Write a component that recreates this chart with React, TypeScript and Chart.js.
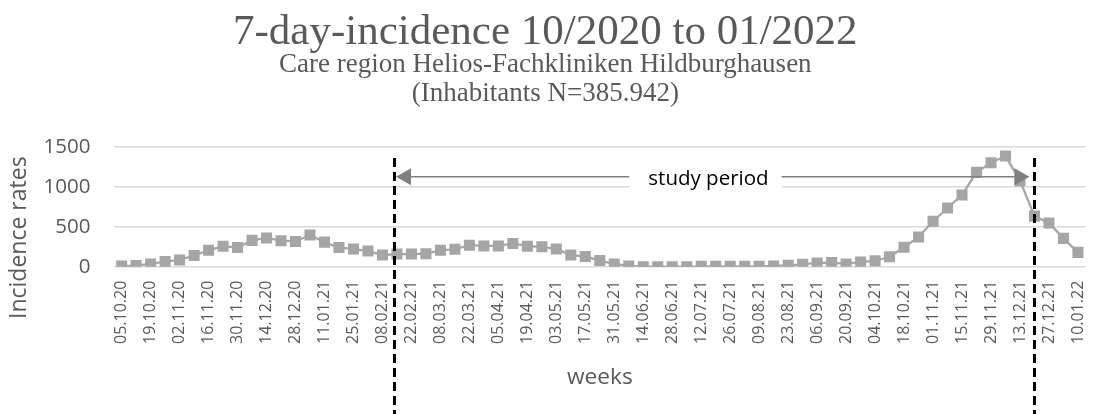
import React, { useEffect, useRef } from "react";
import { Chart, registerables } from "chart.js";

Chart.register(...registerables);

// ---- data ----
const weeks: string[] = [
  "05.10.20", "12.10.20", "19.10.20", "26.10.20", "02.11.20", "09.11.20", "16.11.20", "23.11.20",
  "30.11.20", "07.12.20", "14.12.20", "21.12.20", "28.12.20", "04.01.21", "11.01.21", "18.01.21",
  "25.01.21", "01.02.21", "08.02.21", "15.02.21", "22.02.21", "01.03.21", "08.03.21", "15.03.21",
  "22.03.21", "29.03.21", "05.04.21", "12.04.21", "19.04.21", "26.04.21", "03.05.21", "10.05.21",
  "17.05.21", "24.05.21", "31.05.21", "07.06.21", "14.06.21", "21.06.21", "28.06.21", "05.07.21",
  "12.07.21", "19.07.21", "26.07.21", "02.08.21", "09.08.21", "16.08.21", "23.08.21", "30.08.21",
  "06.09.21", "13.09.21", "20.09.21", "27.09.21", "04.10.21", "11.10.21", "18.10.21", "25.10.21",
  "01.11.21", "08.11.21", "15.11.21", "22.11.21", "29.11.21", "06.12.21", "13.12.21", "20.12.21",
  "27.12.21", "03.01.22", "10.01.22",
];

const incidence: number[] = [
  10, 15, 35, 64, 85, 140, 205, 256, 239, 329, 359, 325, 316, 397, 307, 239,
  222, 196, 145, 158, 158, 162, 205, 218, 269, 260, 260, 290, 256, 248, 222, 145,
  128, 77, 34, 9, 0, 0, 0, 0, 4, 4, 4, 4, 4, 9, 17, 30,
  47, 51, 34, 60, 73, 124, 243, 371, 568, 734, 897, 1179, 1298, 1383, 1076, 632,
  547, 354, 179,
];

const yMin = 0;
const yMax = 1500;
const yStep = 500;

const chartTitle = "7-day-incidence 10/2020 to 01/2022";
const chartSubtitle = [
  "Care region Helios-Fachkliniken Hildburghausen",
  "(Inhabitants N=385.942)",
];
const yAxisTitle = "Incidence rates";
const xAxisTitle = "weeks";
const studyPeriodLabel = "study period";

// study period markers (category positions)
const studyStart = 18.83;
const studyEnd = 63;
const studyLabelAt = 40.5;
const markerTopValue = 1360;
const arrowValue = 1125;

// ---- styles ----
const SANS = "'Open Sans', 'DejaVu Sans', sans-serif";
const SERIF = "'Liberation Serif', 'Times New Roman', serif";
const TEXT_GREY = "#595959";
const SERIES_GREY = "#A5A5A5";
const ARROW_GREY = "#7F7F7F";

const studyPeriodPlugin = {
  id: "studyPeriod",
  beforeDatasetsDraw(chart: any) {
    const { ctx, scales } = chart;
    const x = scales.x;
    const y = scales.y;
    ctx.save();
    ctx.font = `20.5px ${SANS}`;
    const cx = x.getPixelForValue(studyLabelAt);
    const w = ctx.measureText(studyPeriodLabel).width;
    const ay = y.getPixelForValue(arrowValue);
    ctx.fillStyle = "#ffffff";
    ctx.fillRect(cx - w / 2 - 19, ay - 12, w + 32, 27);
    ctx.restore();
  },
  afterDatasetsDraw(chart: any) {
    const { ctx, scales, chartArea } = chart;
    const x = scales.x;
    const y = scales.y;
    ctx.save();

    // label
    ctx.font = `20.5px ${SANS}`;
    const cx = x.getPixelForValue(studyLabelAt);
    const w = ctx.measureText(studyPeriodLabel).width;
    const ay = y.getPixelForValue(arrowValue);
    ctx.fillStyle = "#000000";
    ctx.textAlign = "center";
    ctx.textBaseline = "middle";
    ctx.fillText(studyPeriodLabel, cx, ay + 2);

    const xs = x.getPixelForValue(studyStart);
    const xe = x.getPixelForValue(studyEnd);
    const boxL = cx - w / 2 - 19;
    const boxR = cx + w / 2 + 13;

    // arrows
    ctx.strokeStyle = ARROW_GREY;
    ctx.fillStyle = ARROW_GREY;
    ctx.lineWidth = 1.5;
    const headL = 15;
    const headH = 8.5;
    const tipL = xs + 1.5;
    const tipR = xe - 5;
    ctx.beginPath();
    ctx.moveTo(boxL, ay);
    ctx.lineTo(tipL + headL, ay);
    ctx.moveTo(boxR, ay);
    ctx.lineTo(tipR - headL, ay);
    ctx.stroke();
    ctx.beginPath();
    ctx.moveTo(tipL, ay);
    ctx.lineTo(tipL + headL, ay - headH);
    ctx.lineTo(tipL + headL, ay + headH);
    ctx.closePath();
    ctx.fill();
    ctx.beginPath();
    ctx.moveTo(tipR, ay);
    ctx.lineTo(tipR - headL, ay - headH);
    ctx.lineTo(tipR - headL, ay + headH);
    ctx.closePath();
    ctx.fill();

    // dashed markers
    const top = y.getPixelForValue(markerTopValue);
    ctx.strokeStyle = "#000000";
    ctx.lineWidth = 3;
    ctx.setLineDash([9, 5]);
    for (const px of [xs, xe]) {
      ctx.beginPath();
      ctx.moveTo(px, top);
      ctx.lineTo(px, chart.height);
      ctx.stroke();
    }
    ctx.setLineDash([]);

    // y axis title
    ctx.font = `23px ${SANS}`;
    ctx.fillStyle = TEXT_GREY;
    ctx.textAlign = "center";
    ctx.textBaseline = "middle";
    ctx.translate(19, chartArea.bottom - 29);
    ctx.rotate(-Math.PI / 2);
    ctx.fillText(yAxisTitle, 0, 0);

    ctx.restore();
  },
};

export default function App() {
  const ref = useRef<HTMLCanvasElement>(null);

  useEffect(() => {
    if (!ref.current) return;
    const chart = new Chart(ref.current, {
      type: "line",
      data: {
        labels: weeks,
        datasets: [
          {
            data: incidence,
            borderColor: SERIES_GREY,
            backgroundColor: SERIES_GREY,
            borderWidth: 2.25,
            pointStyle: "rect",
            pointRadius: 7.8,
            pointBorderWidth: 0,
            pointBackgroundColor: SERIES_GREY,
            pointBorderColor: SERIES_GREY,
            tension: 0,
            fill: false,
          },
        ],
      },
      options: {
        responsive: false,
        animation: false,
        devicePixelRatio: 1,
        layout: { padding: { left: 0, right: 2.4, top: 0, bottom: 0 } },
        plugins: {
          legend: { display: false },
          tooltip: { enabled: false },
          title: {
            display: true,
            text: chartTitle,
            color: TEXT_GREY,
            font: { family: SERIF, size: 43, weight: "normal", lineHeight: 0.8 },
            padding: { top: 15.5, bottom: 0 },
          },
          subtitle: {
            display: true,
            text: chartSubtitle,
            color: TEXT_GREY,
            font: { family: SERIF, size: 27, weight: "normal", lineHeight: 1.074 },
            padding: { top: 0.3, bottom: 38.5 },
          },
        },
        scales: {
          x: {
            type: "category",
            offset: true,
            grid: { display: false, drawTicks: false },
            border: { display: false },
            ticks: {
              autoSkip: false,
              minRotation: 90,
              maxRotation: 90,
              padding: 14,
              color: TEXT_GREY,
              font: { family: SANS, size: 16 },
              callback: (_v: any, i: number) => (i % 2 === 0 ? weeks[i] : ""),
            },
            title: {
              display: true,
              text: xAxisTitle,
              color: TEXT_GREY,
              font: { family: SANS, size: 22.7 },
              padding: { top: 0, bottom: 23 },
            },
            afterFit: (scale: any) => {
              scale.height = 147.3;
              scale.paddingLeft = 0;
              scale.paddingRight = 0;
            },
          },
          y: {
            min: yMin,
            max: yMax,
            grid: { color: "#D9D9D9", lineWidth: 1.5, drawTicks: false },
            border: { display: false },
            ticks: {
              stepSize: yStep,
              padding: 24,
              color: TEXT_GREY,
              font: { family: SANS, size: 20.5 },
              callback: (v: any) => String(v),
            },
            afterFit: (scale: any) => {
              scale.width = 114.4;
              scale.paddingTop = 0;
              scale.paddingBottom = 0;
            },
          },
        },
      },
      plugins: [studyPeriodPlugin],
    } as any);
    return () => chart.destroy();
  }, []);

  return (
    <div style={{ position: "absolute", left: 0, top: 0, width: 1093, height: 414, background: "#ffffff" }}>
      <canvas ref={ref} width={1093} height={414} style={{ display: "block", width: 1093, height: 414 }} />
    </div>
  );
}
